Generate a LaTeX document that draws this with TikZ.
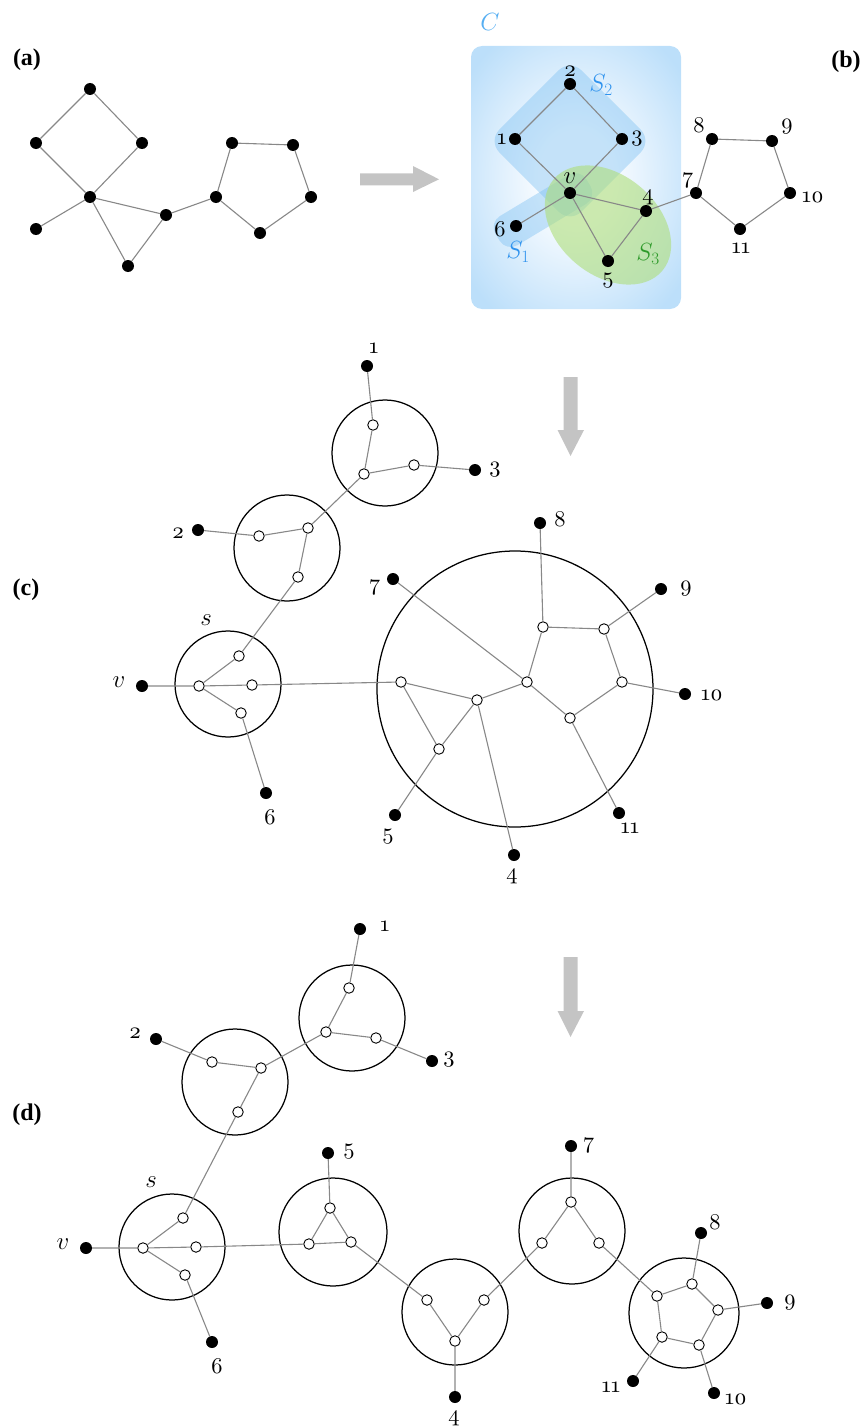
\documentclass[tikz,border=0pt]{standalone}
\usepackage{fontspec}
\newfontfamily\numf{lmroman10-regular.otf}[Numbers=OldStyle]
\newfontfamily\labf{Liberation Serif}
\usetikzlibrary{shapes.geometric}
\definecolor{edgegray}{HTML}{888888}
\definecolor{arrgray}{HTML}{C4C4C4}
\definecolor{cblue}{HTML}{55AEF2}
\definecolor{sblue}{HTML}{2F93EE}
\definecolor{sgreen}{HTML}{2E9A2A}
\definecolor{bgout}{HTML}{BCDFFA}
\definecolor{bgin}{HTML}{F7FBFF}
\definecolor{s2fill}{HTML}{78BEF2}
\definecolor{s3fill}{HTML}{AEDE7A}
\pgfdeclareradialshading{bgshade}{\pgfpoint{0bp}{0bp}}{color(0bp)=(bgin); color(9bp)=(bgin); color(24bp)=(bgout!65!bgin); color(32bp)=(bgout); color(50bp)=(bgout)}
\tikzset{
  bd/.style={circle,fill=black,inner sep=0pt,minimum size=12pt},
  wd/.style={circle,fill=white,draw=black,line width=0.9pt,inner sep=0pt,minimum size=10.5pt},
  ed/.style={draw=edgegray,line width=1.1pt},
  bag/.style={draw=black,line width=1.25pt},
  num/.style={inner sep=0pt,font=\fontsize{22.5}{22.5}\selectfont\numf},
  mlab/.style={inner sep=0pt,font=\fontsize{27}{27}\selectfont},
  plab/.style={inner sep=0pt,font=\fontsize{24}{24}\selectfont\labf\bfseries},
  arr/.style={fill=arrgray}
}
\begin{document}
\begin{tikzpicture}[x=1pt,y=-1pt]
\useasboundingbox (0,0) rectangle (865,1426);
% ---------------- panel labels
\node[plab] (la) at (27,60) {(a)};
\node[plab] (lb) at (846,62) {(b)};
\node[plab] (lc) at (26,590) {(c)};
\node[plab] (ld) at (27,1115) {(d)};
% ---------------- arrows
\fill[arr] (360,173.3) -- (413,173.3) -- (413,166) -- (439,179.3) -- (413,192) -- (413,185.3) -- (360,185.3) -- cycle;
\fill[arr] (563.5,377) -- (577.5,377) -- (577.5,430) -- (584,430) -- (570.5,456) -- (557.5,430) -- (563.5,430) -- cycle;
\fill[arr] (563.5,957) -- (577.5,957) -- (577.5,1011) -- (584,1011) -- (570.5,1037) -- (557.5,1011) -- (563.5,1011) -- cycle;
% ---------------- panel (a)
\node[bd] (a1) at (90,89) {};
\node[bd] (a2) at (36,143) {};
\node[bd] (a3) at (142,143) {};
\node[bd] (a4) at (90,197) {};
\node[bd] (a5) at (36,229) {};
\node[bd] (a6) at (128,266) {};
\node[bd] (a7) at (166,215) {};
\node[bd] (a8) at (216,197) {};
\node[bd] (a9) at (232,143) {};
\node[bd] (a10) at (293,145) {};
\node[bd] (a11) at (311,197) {};
\node[bd] (a12) at (260,233) {};
\draw[ed] (a1)--(a2) (a1)--(a3) (a2)--(a4) (a3)--(a4) (a4)--(a5) (a4)--(a6) (a4)--(a7) (a6)--(a7)
  (a7)--(a8) (a8)--(a9) (a9)--(a10) (a10)--(a11) (a11)--(a12) (a12)--(a8);
% ---------------- panel (b)
\shade[shading=bgshade,rounded corners=11pt] (471,46) rectangle (681,309);
\node[inner sep=0pt,text=cblue,font=\fontsize{36}{36}\selectfont] (lC) at (490,22) {$C$};
\begin{scope}[shift={(570,141)},rotate=45]
  \fill[s2fill,opacity=0.4,rounded corners=16pt] (-58,-58) rectangle (58,58);
\end{scope}
\begin{scope}[shift={(543,210)},rotate=31]
  \fill[s2fill,opacity=0.4,rounded corners=13pt] (-53,-17) rectangle (53,17);
\end{scope}
\fill[s3fill,opacity=0.6,rotate around={-40:(608,225)}] (608,225) ellipse [x radius=71,y radius=50];
\node[bd] (b2) at (570,84) {};
\node[bd] (b1) at (515,139) {};
\node[bd] (b3) at (622,139) {};
\node[bd] (bv) at (570,193) {};
\node[bd] (b6) at (516,226) {};
\node[bd] (b5) at (608,261) {};
\node[bd] (b4) at (646,211) {};
\node[bd] (b7) at (696,193) {};
\node[bd] (b8) at (712,139) {};
\node[bd] (b9) at (772,141) {};
\node[bd] (b10) at (790,193) {};
\node[bd] (b11) at (740,229) {};
\draw[ed] (b2)--(b1) (b2)--(b3) (b1)--(bv) (b3)--(bv) (bv)--(b6) (bv)--(b4) (bv)--(b5) (b5)--(b4)
  (b4)--(b7) (b7)--(b8) (b8)--(b9) (b9)--(b10) (b10)--(b11) (b11)--(b7);
\node[num] (lb2) at (570,71) {2};
\node[num] (lb1) at (502,139) {1};
\node[num] (lb3) at (637,139) {3};
\node[mlab] (lbv) at (570,178) {$v$};
\node[num] (lb6) at (500,229) {6};
\node[num] (lb5) at (608,281) {5};
\node[num] (lb4) at (648,197) {4};
\node[num] (lb7) at (688,180) {7};
\node[num] (lb8) at (699,125) {8};
\node[num] (lb9) at (787,127) {9};
\node[num] (lb10) at (813,197) {10};
\node[num] (lb11) at (741,248) {11};
\node[mlab,text=sblue] (lS2) at (601,85) {$S_2$};
\node[mlab,text=sblue] (lS1) at (518,252) {$S_1$};
\node[mlab,text=sgreen] (lS3) at (648,254) {$S_3$};
% ---------------- panel (c)
\draw[bag] (385,453) circle (53);
\draw[bag] (287,548) circle (53);
\draw[bag] (228,684) circle (53);
\draw[bag] (515,689) circle (138);
\node[wd] (cp1) at (373,425) {};
\node[wd] (cp2) at (364,474) {};
\node[wd] (cp3) at (414,465) {};
\node[wd] (cq1) at (259,536) {};
\node[wd] (cq2) at (308,528) {};
\node[wd] (cq3) at (298,577) {};
\node[wd] (cs1) at (199,686) {};
\node[wd] (cs2) at (239,656) {};
\node[wd] (cs3) at (252,685) {};
\node[wd] (cs4) at (241,713) {};
\node[wd] (cA) at (401,682) {};
\node[wd] (cB) at (477,700) {};
\node[wd] (cC) at (439,749) {};
\node[wd] (cD) at (527,682) {};
\node[wd] (cE) at (543,627) {};
\node[wd] (cF) at (604,629) {};
\node[wd] (cG) at (622,682) {};
\node[wd] (cH) at (570,718) {};
\node[bd] (c1) at (367,366) {};
\node[bd] (c3) at (475,470) {};
\node[bd] (c2) at (198,530) {};
\node[bd] (cv) at (142,686) {};
\node[bd] (c6) at (266,793) {};
\node[bd] (c7) at (393,579) {};
\node[bd] (c8) at (540,523) {};
\node[bd] (c9) at (661,589) {};
\node[bd] (c10) at (685,694) {};
\node[bd] (c11) at (619,813) {};
\node[bd] (c4) at (514,855) {};
\node[bd] (c5) at (395,815) {};
\draw[ed] (c1)--(cp1) (cp1)--(cp2) (cp2)--(cp3) (cp3)--(c3) (cp2)--(cq2)
  (c2)--(cq1) (cq1)--(cq2) (cq2)--(cq3) (cq3)--(cs2)
  (cv)--(cs1) (cs1)--(cs2) (cs1)--(cs3) (cs1)--(cs4) (cs4)--(c6) (cs3)--(cA)
  (cA)--(cB) (cA)--(cC) (cB)--(cC) (cB)--(cD) (cD)--(cE) (cE)--(cF) (cF)--(cG) (cG)--(cH) (cH)--(cD)
  (cD)--(c7) (cE)--(c8) (cF)--(c9) (cG)--(c10) (cH)--(c11) (cB)--(c4) (cC)--(c5);
\node[num] (lc1) at (374,348) {1};
\node[num] (lc3) at (495,470) {3};
\node[num] (lc2) at (178,533) {2};
\node[mlab] (lcv) at (119,682) {$v$};
\node[num] (lc6) at (270,817) {6};
\node[num] (lc7) at (375,587) {7};
\node[num] (lc8) at (560,519) {8};
\node[num] (lc9) at (686,589) {9};
\node[num] (lc10) at (712,695) {10};
\node[num] (lc11) at (630,828) {11};
\node[num] (lc4) at (512,876) {4};
\node[num] (lc5) at (388,837) {5};
\node[mlab] (lcs) at (206,620) {$s$};
% ---------------- panel (d)
\draw[bag] (352,1018) circle (53);
\draw[bag] (235,1082) circle (53);
\draw[bag] (172,1247) circle (53);
\draw[bag] (333,1232) circle (54);
\draw[bag] (455,1312) circle (53);
\draw[bag] (572,1231) circle (53);
\draw[bag] (684,1313) circle (55);
\node[wd] (dP1) at (349,988) {};
\node[wd] (dP2) at (326,1032) {};
\node[wd] (dP3) at (376,1038) {};
\node[wd] (dQ1) at (212,1062) {};
\node[wd] (dQ2) at (261,1068) {};
\node[wd] (dQ3) at (238,1112) {};
\node[wd] (dS1) at (143,1248) {};
\node[wd] (dS2) at (183,1218) {};
\node[wd] (dS3) at (196,1247) {};
\node[wd] (dS4) at (185,1275) {};
\node[wd] (dF1) at (330,1208) {};
\node[wd] (dF2) at (309,1244) {};
\node[wd] (dF3) at (351,1242) {};
\node[wd] (dG1) at (427,1300) {};
\node[wd] (dG2) at (484,1300) {};
\node[wd] (dG3) at (455,1341) {};
\node[wd] (dH1) at (571,1202) {};
\node[wd] (dH2) at (542,1243) {};
\node[wd] (dH3) at (599,1243) {};
\node[wd] (dK1) at (692,1284) {};
\node[wd] (dK2) at (718,1310) {};
\node[wd] (dK3) at (699,1345) {};
\node[wd] (dK4) at (662,1337) {};
\node[wd] (dK5) at (657,1296) {};
\node[bd] (d1) at (360,929) {};
\node[bd] (d3) at (432,1061) {};
\node[bd] (d2) at (156,1039) {};
\node[bd] (dv) at (86,1248) {};
\node[bd] (d6) at (212,1342) {};
\node[bd] (d5) at (328,1153) {};
\node[bd] (d4) at (455,1397) {};
\node[bd] (d7) at (571,1146) {};
\node[bd] (d8) at (701,1233) {};
\node[bd] (d9) at (767,1303) {};
\node[bd] (d10) at (714,1393) {};
\node[bd] (d11) at (633,1381) {};
\draw[ed] (d1)--(dP1) (dP1)--(dP2) (dP2)--(dP3) (dP3)--(d3) (dP2)--(dQ2)
  (d2)--(dQ1) (dQ1)--(dQ2) (dQ2)--(dQ3) (dQ3)--(dS2)
  (dv)--(dS1) (dS1)--(dS2) (dS1)--(dS3) (dS1)--(dS4) (dS4)--(d6) (dS3)--(dF2)
  (d5)--(dF1) (dF1)--(dF2) (dF1)--(dF3) (dF2)--(dF3) (dF3)--(dG1)
  (dG1)--(dG3) (dG2)--(dG3) (dG3)--(d4) (dG2)--(dH2)
  (d7)--(dH1) (dH1)--(dH2) (dH1)--(dH3) (dH3)--(dK5)
  (dK5)--(dK1) (dK1)--(dK2) (dK2)--(dK3) (dK3)--(dK4) (dK4)--(dK5)
  (dK1)--(d8) (dK2)--(d9) (dK3)--(d10) (dK4)--(d11);
\node[num] (ld1) at (385,926) {1};
\node[num] (ld3) at (449,1060) {3};
\node[num] (ld2) at (135,1033) {2};
\node[mlab] (ldv) at (63,1244) {$v$};
\node[num] (ld6) at (217,1366) {6};
\node[mlab] (lds) at (151,1182) {$s$};
\node[num] (ld5) at (349,1152) {5};
\node[num] (ld4) at (454,1418) {4};
\node[num] (ld7) at (589,1145) {7};
\node[num] (ld8) at (715,1222) {8};
\node[num] (ld9) at (790,1303) {9};
\node[num] (ld10) at (736,1399) {10};
\node[num] (ld11) at (611,1387) {11};
\end{tikzpicture}
\end{document}
